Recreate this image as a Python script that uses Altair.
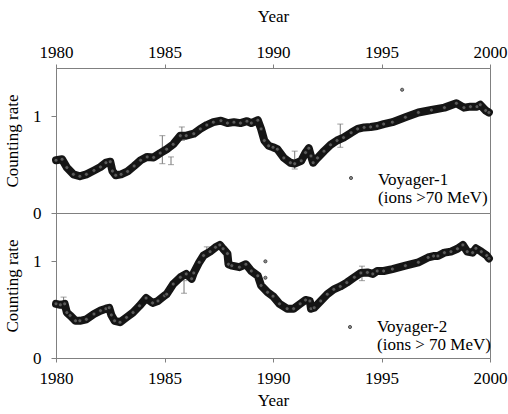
import altair as alt
import pandas as pd

# ---------------- data ----------------
v1_year = [1980.0, 1980.28, 1980.5, 1980.8, 1981.1, 1981.4, 1981.75, 1982.05, 1982.3, 1982.5,
           1982.6, 1982.75, 1983.0, 1983.3, 1983.6, 1983.9, 1984.2, 1984.5, 1984.8, 1985.1,
           1985.4, 1985.73, 1986.0, 1986.35, 1986.65, 1986.95, 1987.25, 1987.6, 1987.9, 1988.2,
           1988.5, 1988.8, 1989.0, 1989.3, 1989.45, 1989.6, 1989.8, 1990.0, 1990.2, 1990.5,
           1990.8, 1991.0, 1991.3, 1991.5, 1991.65, 1991.75, 1991.85, 1992.05, 1992.35, 1992.65,
           1992.95, 1993.25, 1993.6, 1993.9, 1994.2, 1994.5, 1994.8, 1995.1, 1995.5, 1996.1,
           1996.7, 1997.3, 1997.9, 1998.45, 1998.8, 1999.1, 1999.4, 1999.55, 1999.8, 1999.95]
v1_rate = [0.546, 0.556, 0.47, 0.40, 0.38, 0.40, 0.44, 0.476, 0.52, 0.53,
           0.434, 0.39, 0.40, 0.43, 0.486, 0.546, 0.58, 0.575, 0.62, 0.66,
           0.71, 0.80, 0.80, 0.82, 0.87, 0.91, 0.94, 0.955, 0.93, 0.94,
           0.93, 0.95, 0.93, 0.96, 0.87, 0.75, 0.695, 0.68, 0.66, 0.57,
           0.52, 0.51, 0.54, 0.625, 0.67, 0.59, 0.52, 0.57, 0.64, 0.705,
           0.75, 0.78, 0.83, 0.87, 0.885, 0.89, 0.90, 0.92, 0.94, 0.99,
           1.04, 1.065, 1.09, 1.135, 1.09, 1.10, 1.10, 1.12, 1.06, 1.04]
v1_out_year = [1995.95]
v1_out_rate = [1.275]
v1_err_year = [1984.9, 1985.3, 1985.8, 1991.0, 1993.1]
v1_err_lo = [0.51, 0.50, 0.75, 0.455, 0.68]
v1_err_hi = [0.80, 0.58, 0.89, 0.64, 0.92]

v2_year = [1980.0, 1980.2, 1980.4, 1980.5, 1980.65, 1980.9, 1981.1, 1981.4, 1981.75, 1982.05,
           1982.3, 1982.45, 1982.55, 1982.7, 1982.95, 1983.25, 1983.55, 1983.85, 1984.15, 1984.45,
           1984.7, 1985.0, 1985.1, 1985.4, 1985.73, 1986.0, 1986.25, 1986.35, 1986.6, 1986.8,
           1987.1, 1987.35, 1987.55, 1987.7, 1987.9, 1987.95, 1988.1, 1988.45, 1988.75, 1989.0,
           1989.3, 1989.45, 1989.75, 1990.0, 1990.3, 1990.65, 1990.95, 1991.25, 1991.5, 1991.7,
           1991.75, 1991.9, 1992.2, 1992.5, 1992.8, 1993.1, 1993.4, 1993.75, 1994.05, 1994.35,
           1994.6, 1994.8, 1995.1, 1995.5, 1996.1, 1996.7, 1997.15, 1997.4, 1997.6, 1997.9,
           1998.2, 1998.5, 1998.75, 1998.95, 1999.2, 1999.35, 1999.6, 1999.85, 1999.95]
v2_rate = [0.56, 0.55, 0.56, 0.47, 0.44, 0.385, 0.385, 0.40, 0.455, 0.49,
           0.51, 0.52, 0.445, 0.385, 0.37, 0.42, 0.47, 0.54, 0.62, 0.57,
           0.59, 0.645, 0.66, 0.765, 0.835, 0.87, 0.82, 0.88, 0.99, 1.06,
           1.10, 1.145, 1.17, 1.13, 1.08, 0.97, 0.955, 0.94, 0.97, 0.90,
           0.85, 0.75, 0.68, 0.64, 0.56, 0.51, 0.51, 0.56, 0.60, 0.59,
           0.51, 0.52, 0.59, 0.66, 0.71, 0.74, 0.78, 0.835, 0.88, 0.885,
           0.87, 0.90, 0.90, 0.92, 0.955, 0.99, 1.04, 1.055, 1.055, 1.09,
           1.10, 1.13, 1.17, 1.10, 1.09, 1.135, 1.10, 1.06, 1.03]
v2_out_year = [1989.65, 1989.65]
v2_out_rate = [1.0, 0.83]
v2_err_year = [1980.35, 1985.9, 1986.95, 1994.1]
v2_err_lo = [0.51, 0.67, 1.10, 0.80]
v2_err_hi = [0.63, 0.80, 1.15, 0.95]

x_ticks = [1980, 1985, 1990, 1995, 2000]
y_ticks = [0, 1]

FONT = "Liberation Serif"
FS = 17
GRAY = "#808080"
W, H = 434, 145


def panel(years, rates, oy, orate, ey, elo, ehi, lines, x_orient, leg):
    df = pd.DataFrame({"year": years, "rate": rates})
    dout = pd.DataFrame({"year": oy, "rate": orate})
    derr = pd.DataFrame({"year": ey, "lo": elo, "hi": ehi})

    if x_orient == "top":
        xax = alt.Axis(orient="top", values=x_ticks, format="d", tickSize=4,
                       labelPadding=3, titlePadding=18, labelFlush=False, labelOverlap=False)
    else:
        xax = alt.Axis(orient="bottom", values=x_ticks, format="d", tickSize=4,
                       labelPadding=8, titlePadding=6, labelFlush=False, labelOverlap=False)
    yax = alt.Axis(values=y_ticks, format="d", tickSize=5, labelPadding=10, titlePadding=11)
    xs = alt.Scale(domain=[1980, 2000], nice=False, zero=False)
    ys = alt.Scale(domain=[0, 1.5], nice=False)

    def X(f):
        return alt.X(f + ":Q", scale=xs, axis=xax, title="Year")

    def Y(f):
        return alt.Y(f + ":Q", scale=ys, axis=yax, title="Counting rate")

    band = alt.Chart(df).mark_line(color="#151515", strokeWidth=8, strokeJoin="round",
                                   strokeCap="round").encode(x=X("year"), y=Y("rate"))
    pts = alt.Chart(df).mark_point(shape="circle", size=16, filled=True, color="#5a5a5a",
                                   stroke="#111111", strokeWidth=0.8, opacity=1).encode(
        x=X("year"), y=Y("rate"))
    outl = alt.Chart(dout).mark_point(shape="circle", size=10, filled=True, color="#8c8c8c",
                                      stroke="#333333", strokeWidth=0.8, opacity=1).encode(
        x=X("year"), y=Y("rate"))
    err = alt.Chart(derr).mark_rule(color="#777777", strokeWidth=1).encode(
        x=X("year"), y=Y("lo"), y2="hi:Q")
    cap_lo = alt.Chart(derr).mark_tick(color="#777777", orient="horizontal", size=6,
                                       thickness=1).encode(x=X("year"), y=Y("lo"))
    cap_hi = alt.Chart(derr).mark_tick(color="#777777", orient="horizontal", size=6,
                                       thickness=1).encode(x=X("year"), y=Y("hi"))

    one = pd.DataFrame({"k": [0]})
    leg_pt = alt.Chart(one).mark_point(shape="circle", size=10, filled=True, color="#8c8c8c",
                                       stroke="#333333", strokeWidth=0.8, opacity=1).encode(
        x=alt.value(leg[0]), y=alt.value(leg[1]))
    leg_txt = alt.Chart(one).mark_text(text=lines, align="left", baseline="alphabetic",
                                       font=FONT, fontSize=FS, lineHeight=18,
                                       color="black").encode(
        x=alt.value(leg[2]), y=alt.value(leg[3]))

    return alt.layer(err, cap_lo, cap_hi, band, pts, outl, leg_pt, leg_txt).properties(
        width=W, height=H)


top = panel(v1_year, v1_rate, v1_out_year, v1_out_rate, v1_err_year, v1_err_lo, v1_err_hi,
            ["Voyager-1", "(ions >70 MeV)"], "top", (295, 110, 322, 117))
bottom = panel(v2_year, v2_rate, v2_out_year, v2_out_rate, v2_err_year, v2_err_lo, v2_err_hi,
               ["Voyager-2", "(ions > 70 MeV)"], "bottom", (294, 114, 321, 119))

chart = alt.vconcat(top, bottom, spacing=0, bounds="flush").properties(
    padding={"left": 3, "top": 6, "right": 0, "bottom": 0}
).configure_axis(
    labelFont=FONT, labelFontSize=FS, titleFont=FONT, titleFontSize=FS,
    titleFontWeight="normal", labelColor="black", titleColor="black",
    domainColor=GRAY, tickColor=GRAY, grid=False
).configure_view(stroke=GRAY, strokeWidth=1)

chart.save("out.html", embed_options={"renderer": "svg", "actions": False})
